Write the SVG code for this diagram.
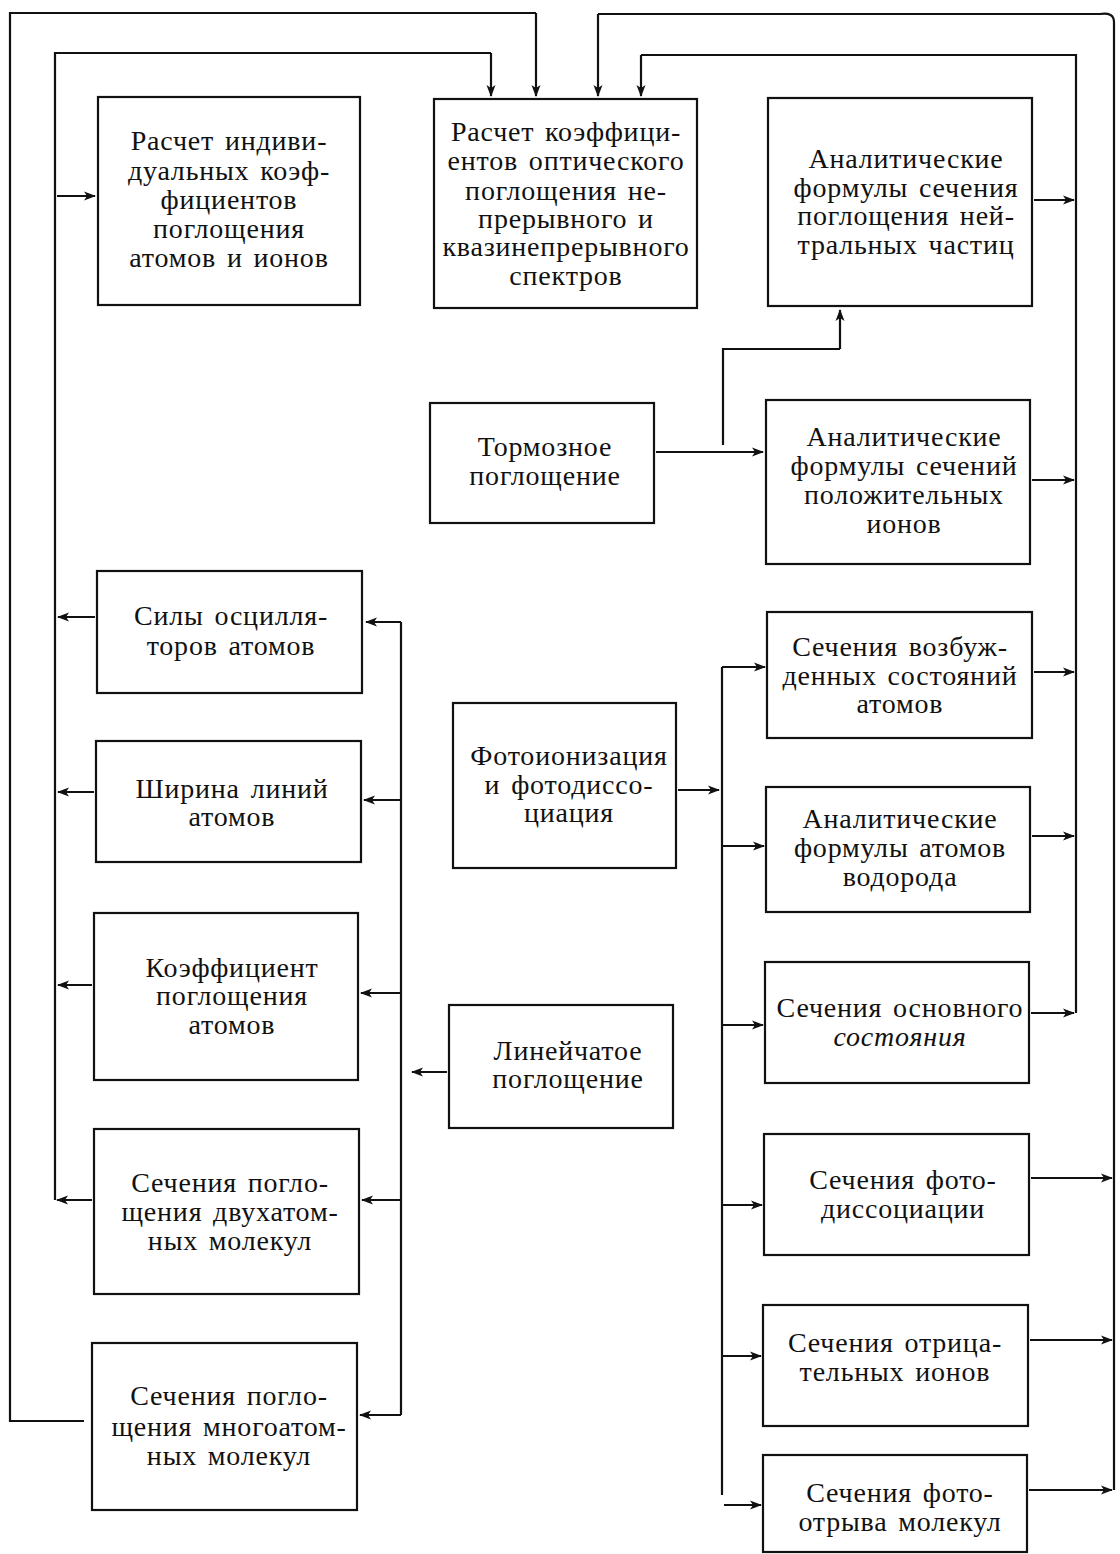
<svg xmlns="http://www.w3.org/2000/svg" width="1120" height="1554" viewBox="0 0 1120 1554">
<style>
.box{fill:none;stroke:#111;stroke-width:2.2}
.ln{fill:none;stroke:#111;stroke-width:2.2}
.ar{fill:none;stroke:#111;stroke-width:2.2;marker-end:url(#ah)}
text{font-family:"Liberation Serif","DejaVu Serif",serif;font-size:28px;fill:#111;text-anchor:middle;word-spacing:3px;letter-spacing:0.8px}
</style>
<defs>
<marker id="ah" viewBox="0 0 12 10" refX="11" refY="5" markerWidth="12" markerHeight="10" markerUnits="userSpaceOnUse" orient="auto">
<path d="M0,0.5 L12,5 L0,9.5 L3,5 Z" fill="#111"/>
</marker>
</defs>
<rect width="1120" height="1554" fill="#fff"/>

<g id="connectors">
<path class="ln" d="M84 1421 H10 V13 H536"/>
<path class="ar" d="M536 13 V96"/>
<path class="ln" d="M55 1200 V53 H491"/>
<path class="ar" d="M491 53 V96"/>
<path class="ar" d="M57 196 H95"/>
<path class="ar" d="M95 617 H58"/>
<path class="ar" d="M94 792 H58"/>
<path class="ar" d="M92 985 H58"/>
<path class="ar" d="M92 1200 H57"/>
<path class="ln" d="M401 622 V1415"/>
<path class="ar" d="M401 622 H366"/>
<path class="ar" d="M401 800 H364"/>
<path class="ar" d="M401 993 H361"/>
<path class="ar" d="M401 1200 H362"/>
<path class="ar" d="M401 1415 H360"/>
<path class="ar" d="M447 1072 H412"/>
<path class="ar" d="M656 452 H763"/>
<path class="ln" d="M723 445 V349 H840"/>
<path class="ar" d="M840 349 V310"/>
<path class="ar" d="M678 790 H719"/>
<path class="ln" d="M722 667 V1495"/>
<path class="ar" d="M722 667 H765"/>
<path class="ar" d="M722 846 H764"/>
<path class="ar" d="M722 1025 H763"/>
<path class="ar" d="M722 1205 H762"/>
<path class="ar" d="M722 1356 H761"/>
<path class="ar" d="M724 1505 H761"/>
<path class="ln" d="M1076 1013 V55 H641"/>
<path class="ar" d="M641 55 V96"/>
<path class="ar" d="M1034 200 H1074"/>
<path class="ar" d="M1032 480 H1074"/>
<path class="ar" d="M1034 672 H1074"/>
<path class="ar" d="M1032 836 H1074"/>
<path class="ar" d="M1031 1013 H1074"/>
<path class="ln" d="M1114 1490 V22 Q1114 12 1100 14 H598"/>
<path class="ar" d="M598 14 V96"/>
<path class="ar" d="M1031 1178 H1112"/>
<path class="ar" d="M1030 1340 H1112"/>
<path class="ar" d="M1029 1490 H1112"/>
</g>

<g id="n1"><rect class="box" x="98" y="97" width="262" height="208"/>
<text><tspan x="229" y="150">Расчет индиви-</tspan><tspan x="229" y="180">дуальных коэф-</tspan><tspan x="229" y="209">фициентов</tspan><tspan x="229" y="238">поглощения</tspan><tspan x="229" y="267">атомов и ионов</tspan></text></g>

<g id="n2"><rect class="box" x="434" y="99" width="263" height="209"/>
<text><tspan x="566" y="141">Расчет коэффици-</tspan><tspan x="566" y="170">ентов оптического</tspan><tspan x="566" y="200">поглощения не-</tspan><tspan x="566" y="228">прерывного и</tspan><tspan x="566" y="256">квазинепрерывного</tspan><tspan x="566" y="285">спектров</tspan></text></g>

<g id="n3"><rect class="box" x="768" y="98" width="264" height="208"/>
<text><tspan x="906" y="168">Аналитические</tspan><tspan x="906" y="197">формулы сечения</tspan><tspan x="906" y="225">поглощения ней-</tspan><tspan x="906" y="254">тральных частиц</tspan></text></g>

<g id="n4"><rect class="box" x="430" y="403" width="224" height="120"/>
<text><tspan x="545" y="456">Тормозное</tspan><tspan x="545" y="485">поглощение</tspan></text></g>

<g id="n5"><rect class="box" x="766" y="400" width="264" height="164"/>
<text><tspan x="904" y="446">Аналитические</tspan><tspan x="904" y="475">формулы сечений</tspan><tspan x="904" y="504">положительных</tspan><tspan x="904" y="533">ионов</tspan></text></g>

<g id="n6"><rect class="box" x="97" y="571" width="265" height="122"/>
<text><tspan x="231" y="625">Силы осцилля-</tspan><tspan x="231" y="655">торов атомов</tspan></text></g>

<g id="n7"><rect class="box" x="96" y="741" width="265" height="121"/>
<text><tspan x="232" y="798">Ширина линий</tspan><tspan x="232" y="826">атомов</tspan></text></g>

<g id="n8"><rect class="box" x="94" y="913" width="264" height="167"/>
<text><tspan x="232" y="977">Коэффициент</tspan><tspan x="232" y="1005">поглощения</tspan><tspan x="232" y="1034">атомов</tspan></text></g>

<g id="n9"><rect class="box" x="449" y="1005" width="224" height="123"/>
<text><tspan x="568" y="1060">Линейчатое</tspan><tspan x="568" y="1088">поглощение</tspan></text></g>

<g id="n10"><rect class="box" x="94" y="1129" width="265" height="165"/>
<text><tspan x="230" y="1192">Сечения погло-</tspan><tspan x="230" y="1221">щения двухатом-</tspan><tspan x="230" y="1250">ных молекул</tspan></text></g>

<g id="n11"><rect class="box" x="92" y="1343" width="265" height="167"/>
<text><tspan x="229" y="1405">Сечения погло-</tspan><tspan x="229" y="1436">щения многоатом-</tspan><tspan x="229" y="1465">ных молекул</tspan></text></g>

<g id="n12"><rect class="box" x="453" y="703" width="223" height="165"/>
<text><tspan x="569" y="765">Фотоионизация</tspan><tspan x="569" y="794">и фотодиссо-</tspan><tspan x="569" y="822">циация</tspan></text></g>

<g id="n13"><rect class="box" x="767" y="612" width="265" height="126"/>
<text><tspan x="900" y="656">Сечения возбуж-</tspan><tspan x="900" y="685">денных состояний</tspan><tspan x="900" y="713">атомов</tspan></text></g>

<g id="n14"><rect class="box" x="766" y="787" width="264" height="125"/>
<text><tspan x="900" y="828">Аналитические</tspan><tspan x="900" y="857">формулы атомов</tspan><tspan x="900" y="886">водорода</tspan></text></g>

<g id="n15"><rect class="box" x="765" y="962" width="264" height="121"/>
<text><tspan x="900" y="1017">Сечения основного</tspan><tspan x="900" y="1046" font-style="italic">состояния</tspan></text></g>

<g id="n16"><rect class="box" x="764" y="1134" width="265" height="121"/>
<text><tspan x="903" y="1189">Сечения фото-</tspan><tspan x="903" y="1218">диссоциации</tspan></text></g>

<g id="n17"><rect class="box" x="763" y="1305" width="265" height="121"/>
<text><tspan x="895" y="1352">Сечения отрица-</tspan><tspan x="895" y="1381">тельных ионов</tspan></text></g>

<g id="n18"><rect class="box" x="763" y="1455" width="264" height="97"/>
<text><tspan x="900" y="1502">Сечения фото-</tspan><tspan x="900" y="1531">отрыва молекул</tspan></text></g>
</svg>
